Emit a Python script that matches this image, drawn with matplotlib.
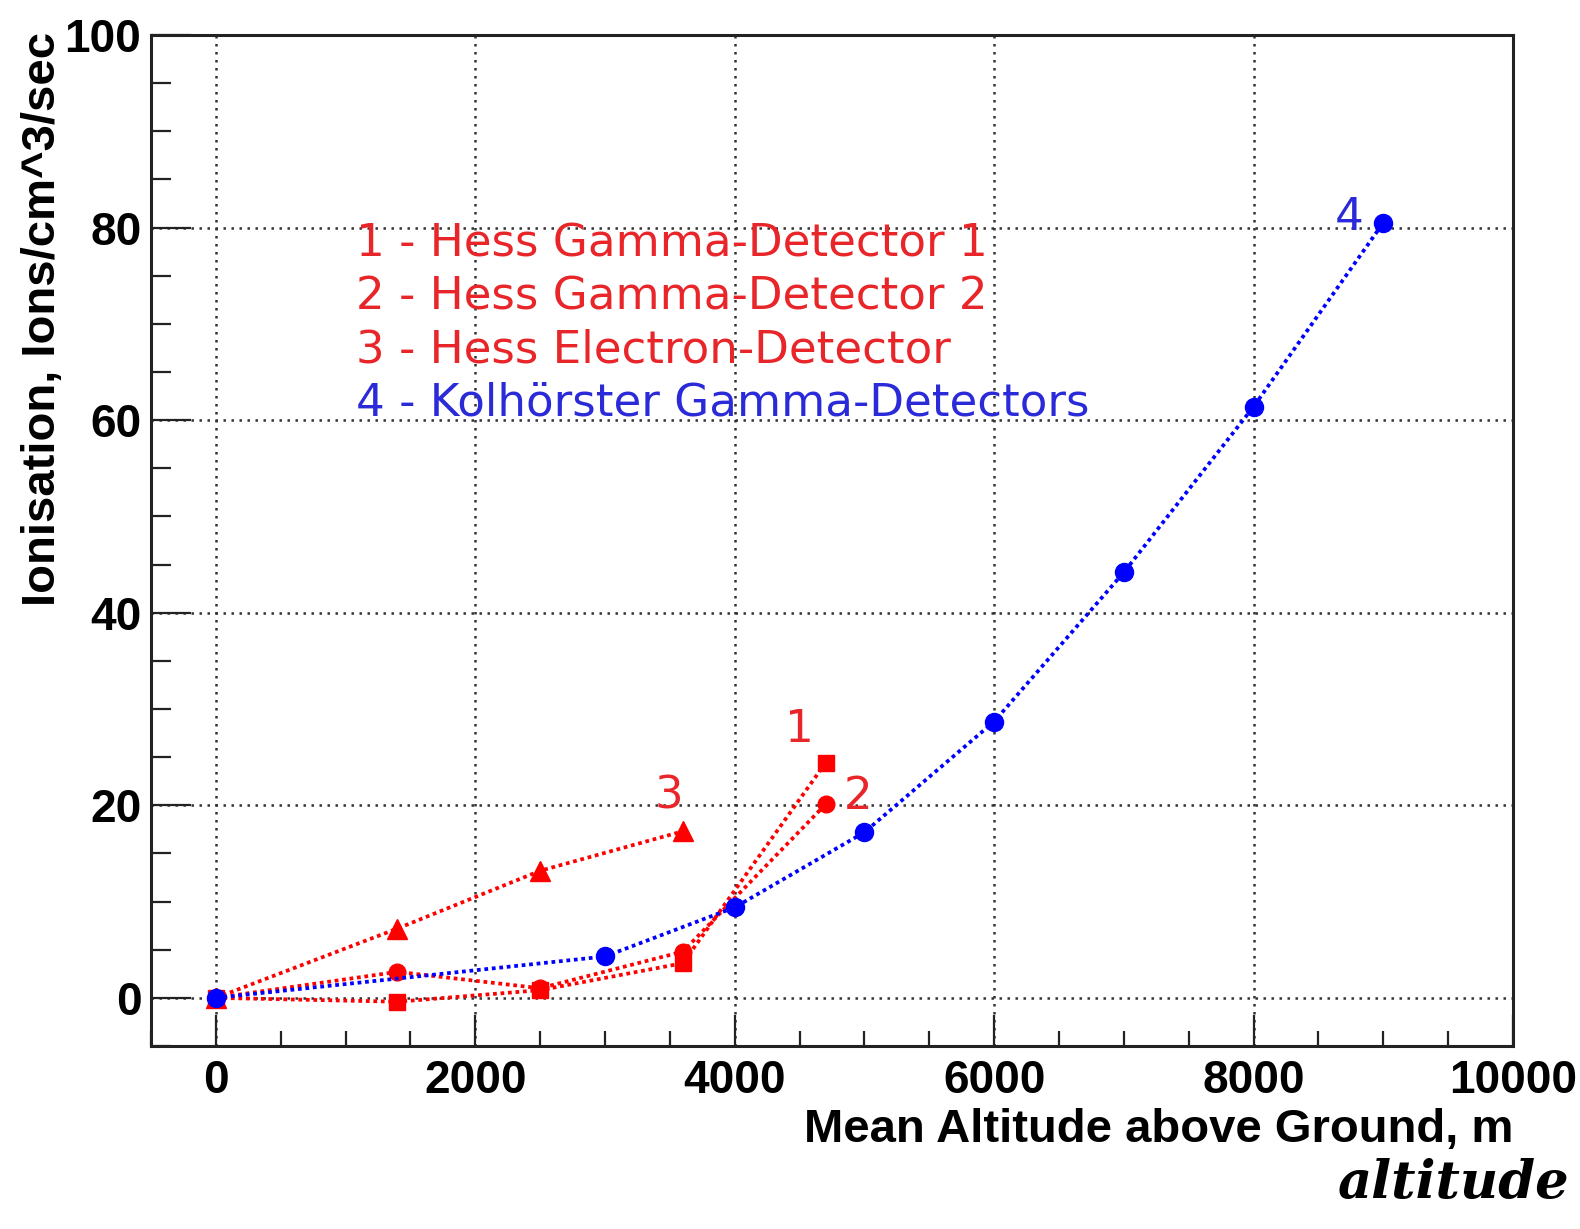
import matplotlib
matplotlib.use("Agg")
import matplotlib.pyplot as plt
from matplotlib.ticker import MultipleLocator

# Hess balloon flights (1912) and Kolhörster flights (1913-14)
alt_hess1 = [0, 1400, 2500, 3600, 4700]
ion_hess1 = [0.0, -0.4, 0.8, 3.6, 24.4]

alt_hess2 = [0, 1400, 2500, 3600, 4700]
ion_hess2 = [0.0, 2.7, 1.0, 4.8, 20.1]

alt_hess3 = [0, 1400, 2500, 3600]
ion_hess3 = [0.0, 7.2, 13.2, 17.3]

alt_kolh = [0, 3000, 4000, 5000, 6000, 7000, 8000, 9000]
ion_kolh = [0.0, 4.3, 9.4, 17.2, 28.7, 44.2, 61.4, 80.5]

legend_lines = [
    ("1 - Hess Gamma-Detector 1", "red"),
    ("2 - Hess Gamma-Detector 2", "red"),
    ("3 - Hess Electron-Detector", "red"),
    ("4 - Kolhörster Gamma-Detectors", "blue"),
]

x_ticks = [0, 2000, 4000, 6000, 8000, 10000]
y_ticks = [0, 20, 40, 60, 80, 100]

RED = "#ff0000"
BLUE = "#0000ff"
TEXT_RED = "#e8262a"
TEXT_BLUE = "#2a2ad8"

fig = plt.figure(figsize=(15.8, 12.29), dpi=100)
ax = fig.add_axes([0.0956, 0.1489, 0.862, 0.8226])

line_style = (0, (1, 1.0))
lw = 2.7

ax.plot(alt_hess3, ion_hess3, color=RED, ls=line_style, lw=lw,
        marker="^", ms=15, zorder=3)
ax.plot(alt_hess2, ion_hess2, color=RED, ls=line_style, lw=lw,
        marker="o", ms=12, zorder=3)
ax.plot(alt_hess1, ion_hess1, color=RED, ls=line_style, lw=lw,
        marker="s", ms=12, zorder=3)
ax.plot(alt_kolh, ion_kolh, color=BLUE, ls=line_style, lw=lw,
        marker="o", ms=13, zorder=4)

ax.set_xlim(-500, 10000)
ax.set_ylim(-5, 100)

ax.set_xticks(x_ticks)
ax.set_yticks(y_ticks)
ax.xaxis.set_minor_locator(MultipleLocator(500))
ax.yaxis.set_minor_locator(MultipleLocator(5))

tick_font = dict(family="Liberation Sans", weight="bold", size=33)
ax.set_xticklabels([str(v) for v in x_ticks], **tick_font)
ax.set_yticklabels([str(v) for v in y_ticks], **tick_font)

ax.tick_params(axis="x", which="major", direction="in", length=22, width=1.6,
               pad=9, top=False, color="#222222")
ax.tick_params(axis="x", which="minor", direction="in", length=11, width=1.6,
               top=False, color="#222222")
ax.tick_params(axis="y", which="major", direction="in", length=29, width=1.6,
               pad=7, right=False, color="#222222")
ax.tick_params(axis="y", which="minor", direction="in", length=14.5, width=1.6,
               right=False, color="#222222")

for sp in ax.spines.values():
    sp.set_linewidth(2.2)
    sp.set_color("#222222")

ax.grid(True, which="major", color="#333333", ls=(0, (1, 2.2)), lw=1.8)
ax.set_axisbelow(True)

label_font = dict(family="Liberation Sans", weight="bold", size=34)
ax.text(1.0, -0.095, "Mean Altitude above Ground, m", transform=ax.transAxes,
        ha="right", va="baseline", **label_font)
ax.text(-0.0705, 1.003, "Ionisation, Ions/cm^3/sec", transform=ax.transAxes,
        rotation=90, rotation_mode="anchor", ha="right", va="baseline",
        **label_font)

# legend block written as coloured text lines
text_font = dict(family="DejaVu Sans", size=32.5)
y0 = 77.0
for i, (txt, col) in enumerate(legend_lines):
    c = TEXT_RED if col == "red" else TEXT_BLUE
    ax.text(1080, y0 - 5.5 * i, txt, color=c, ha="left", va="baseline",
            zorder=5, **text_font)

# series number tags
ax.text(4496, 26.6, "1", color=TEXT_RED, ha="center", va="baseline", **text_font)
ax.text(4953, 19.6, "2", color=TEXT_RED, ha="center", va="baseline", **text_font)
ax.text(3496, 19.7, "3", color=TEXT_RED, ha="center", va="baseline", **text_font)
ax.text(8736, 79.8, "4", color=TEXT_BLUE, ha="center", va="baseline", **text_font)

# handwritten note below the axis
fig.text(0.993, 0.025, "altitude", ha="right", va="baseline",
         family="DejaVu Serif", style="italic", weight="bold", size=38)

fig.savefig("out.png", dpi=100)
